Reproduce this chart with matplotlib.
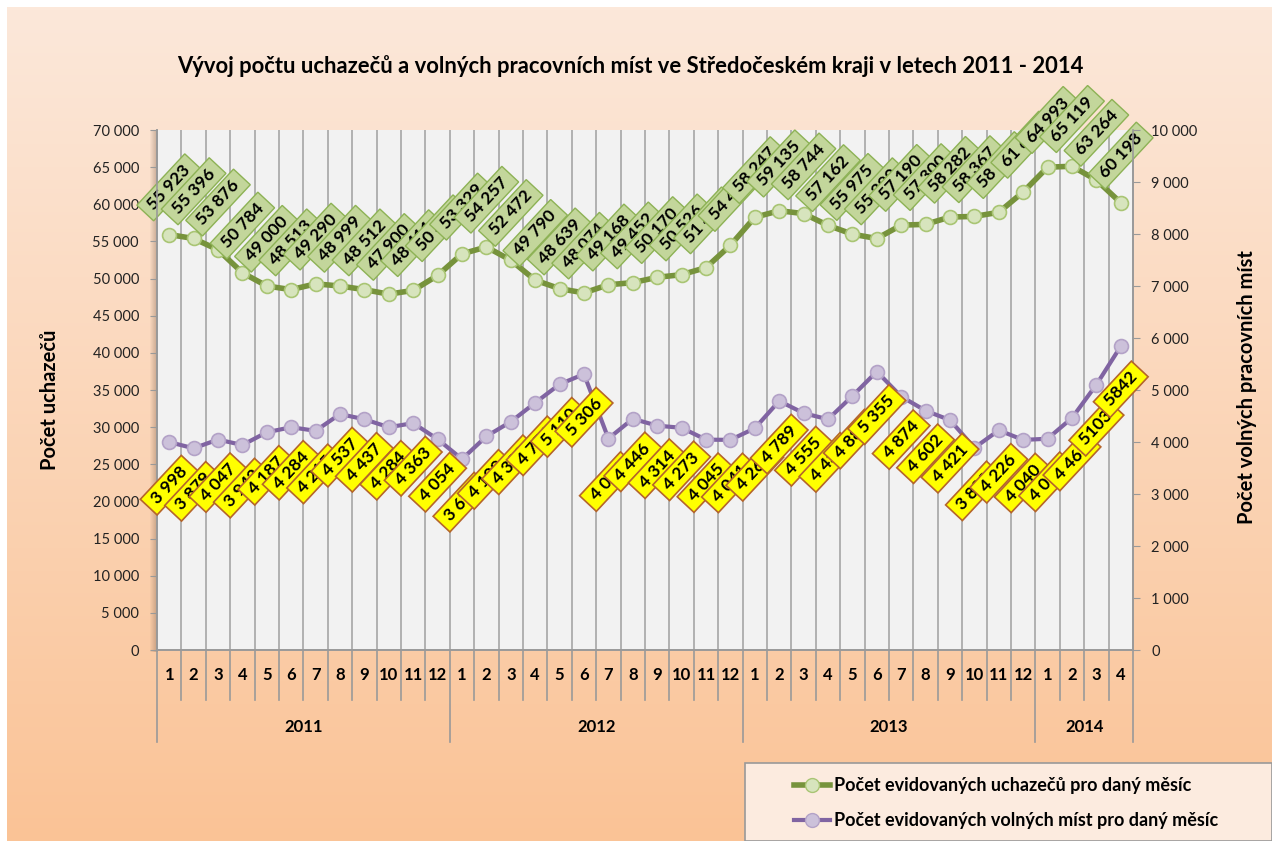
import numpy as np
import matplotlib
matplotlib.use("Agg")
import matplotlib.pyplot as plt
from matplotlib.lines import Line2D
from matplotlib.patches import Rectangle
import matplotlib.transforms as mtransforms

plt.rcParams['font.family'] = ['Lato', 'DejaVu Sans']

# data
mesice = list(range(1, 13)) * 3 + [1, 2, 3, 4]
roky = ['2011', '2012', '2013', '2014']
pocty_mesicu = [12, 12, 12, 4]

uchazeci = [55923, 55396, 53876, 50784, 49000, 48513, 49290, 48999, 48512, 47900, 48411, 50420,
            53329, 54257, 52472, 49790, 48639, 48074, 49168, 49452, 50170, 50526, 51480, 54480,
            58247, 59135, 58744, 57162, 55975, 55390, 57190, 57300, 58282, 58367, 58920, 61660,
            64993, 65119, 63264, 60198]

volna_mista = [3998, 3879, 4047, 3942, 4187, 4284, 4215, 4537, 4437, 4284, 4363, 4054,
               3671, 4109, 4390, 4754, 5110, 5306, 4066, 4446, 4314, 4273, 4045, 4041,
               4264, 4789, 4555, 4436, 4885, 5355, 4874, 4602, 4421, 3888, 4226, 4040,
               4063, 4463, 5103, 5842]
bez_mezery = {38, 39}   # last two labels are written without the thousands space

nazev = 'Vývoj počtu uchazečů a volných pracovních míst ve Středočeském kraji v letech 2011 - 2014'
leg_uch = 'Počet evidovaných uchazečů pro daný měsíc'
leg_vm = 'Počet evidovaných volných míst pro daný měsíc'


def fmt(v):
    return f"{v:,}".replace(",", " ")


W, H = 1272, 841
fig = plt.figure(figsize=(W / 100, H / 100), dpi=100)
fig.patch.set_facecolor('white')

# peach gradient background
bg = fig.add_axes([7 / W, 0, 1 - 7 / W, 1 - 7 / H], zorder=-10)
top = np.array([252, 232, 218]) / 255
bot = np.array([250, 195, 150]) / 255
t = np.linspace(0, 1, 256)[:, None]
grad = (top[None, :] * (1 - t) + bot[None, :] * t)[:, None, :]
bg.imshow(grad, aspect='auto', extent=[0, 1, 0, 1])
bg.axis('off')

ax = fig.add_axes([157 / W, 1 - 650 / H, (1133 - 157) / W, 520 / H])
ax.set_facecolor('#F2F2F2')
ax2 = ax.twinx()

# soft shadow on the left edge of the plot area
for k in range(8):
    fig.patches.append(Rectangle(((150 + k) / W, 1 - 652 / H), 1 / W, 522 / H,
                                 transform=fig.transFigure, fc='#8A6A55',
                                 alpha=0.05 + 0.06 * k, lw=0, zorder=-4))

n = len(uchazeci)
x = np.arange(n)

for b in np.arange(0.5, n - 0.5, 1):
    ax.axvline(b, color='#A6A6A6', lw=1.2, zorder=1)

ax.plot(x, uchazeci, color='#77933C', lw=4, marker='o', ms=10,
        mfc='#D7E4BD', mec='#A9C574', mew=1.2, zorder=3)
ax2.plot(x, volna_mista, color='#8064A2', lw=3, marker='o', ms=10,
         mfc='#CCC1DA', mec='#B3A2C7', mew=1.2, zorder=3)

ax.set_xlim(-0.5, n - 0.5)
ax.set_ylim(0, 70000)
ax2.set_ylim(0, 10000)
ax.set_yticks(range(0, 70001, 5000))
ax.set_yticklabels([fmt(v) for v in range(0, 70001, 5000)])
ax2.set_yticks(range(0, 10001, 1000))
ax2.set_yticklabels([fmt(v) for v in range(0, 10001, 1000)])

for a in (ax, ax2):
    a.spines['top'].set_visible(False)
    for s in ('left', 'right', 'bottom'):
        a.spines[s].set_color('#999999')
        a.spines[s].set_linewidth(1.2)
ax.tick_params(axis='y', length=5, color='#999999', labelsize=10.5, labelcolor='#222222', pad=8)
ax2.tick_params(axis='y', length=5, color='#999999', labelsize=10.5, labelcolor='#222222', pad=8)

ax.set_xticks(x)
ax.set_xticklabels([str(m) for m in mesice], fontsize=12, fontweight='bold')
ax.tick_params(axis='x', length=0, pad=12)

# two-level category axis separators
trans = mtransforms.blended_transform_factory(ax.transData, ax.transAxes)
hranice_roku = np.cumsum([0] + pocty_mesicu) - 0.5
for b in np.arange(-0.5, n, 1):
    dolu = -0.177 if b in hranice_roku else -0.096
    ax.plot([b, b], [0, dolu], transform=trans, color='#999999', lw=1.2, clip_on=False)
start = 0
for rok, pm in zip(roky, pocty_mesicu):
    ax.text(start + pm / 2 - 0.5, -0.148, rok, transform=trans, ha='center', va='center',
            fontsize=12, fontweight='bold')
    start += pm

# data labels (spaces around the number stretch the box along the text)
for i, v in enumerate(uchazeci):
    ax.annotate(' ' + fmt(v) + ' ', (i, v), xytext=(0, 34), textcoords='offset points',
                ha='center', va='center', rotation=47, fontsize=12.5, fontweight='bold',
                bbox=dict(boxstyle='square,pad=0.2', fc='#C3D69B', ec='#8DB255', lw=1),
                zorder=5)
for i, v in enumerate(volna_mista):
    txt = str(v) if i in bez_mezery else fmt(v)
    ax2.annotate(' ' + txt + ' ', (i, v), xytext=(0, -31), textcoords='offset points',
                 ha='center', va='center', rotation=47, fontsize=12.5, fontweight='bold',
                 bbox=dict(boxstyle='square,pad=0.2', fc='#FFFF00', ec='#B5652A', lw=1.2),
                 zorder=5)

fig.text(630 / W, 1 - 66 / H, nazev, ha='center', va='center', fontsize=15.8, fontweight='bold')
fig.text(50 / W, 1 - 400 / H, 'Počet uchazečů', rotation=90, ha='center', va='center',
         fontsize=14.5, fontweight='bold')
fig.text(1247 / W, 1 - 387 / H, 'Počet volných pracovních míst', rotation=90, ha='center',
         va='center', fontsize=14.5, fontweight='bold')

# legend box at bottom right
fig.patches.append(Rectangle((745 / W, 0), 1 - 745 / W, 1 - 763 / H, transform=fig.transFigure,
                             fc='#FCEBDF', ec='#999999', lw=1.2, zorder=-5))
handles = [Line2D([], [], color='#77933C', lw=4, marker='o', ms=10, mfc='#D7E4BD', mec='#A9C574'),
           Line2D([], [], color='#8064A2', lw=3, marker='o', ms=10, mfc='#CCC1DA', mec='#B3A2C7')]
fig.legend(handles, [leg_uch, leg_vm], loc='center left',
           bbox_to_anchor=(785 / W, 1 - 803 / H), frameon=False, prop={'size': 13, 'weight': 'bold'},
           handlelength=2.0, handletextpad=0.2, labelspacing=1.0, borderpad=0)

fig.savefig('out.png', dpi=100)
